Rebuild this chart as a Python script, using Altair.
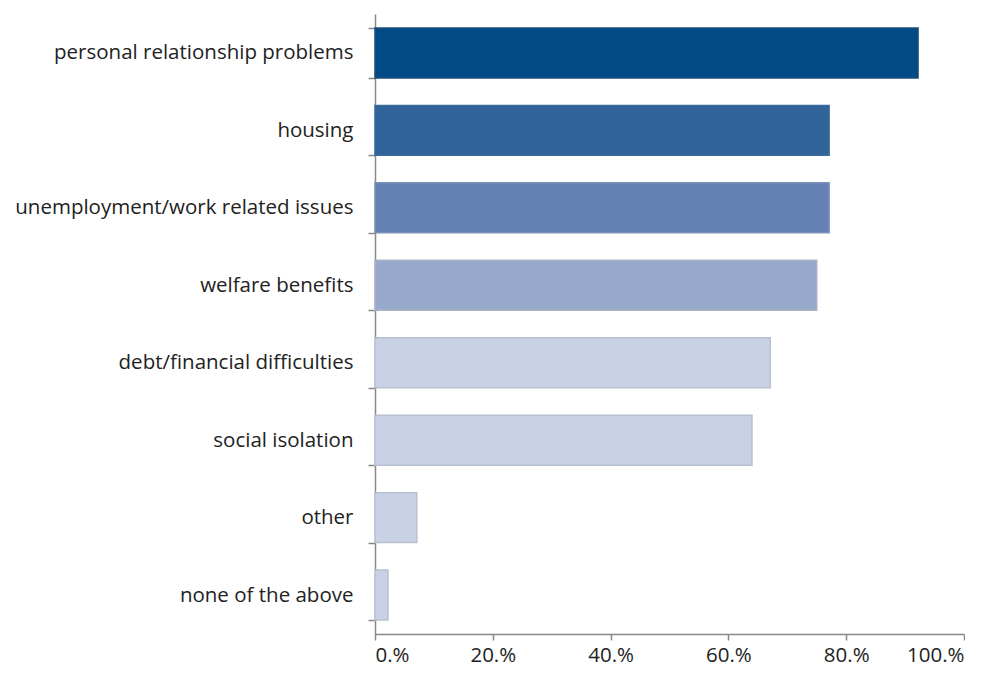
import altair as alt
import pandas as pd

categories = ["personal relationship problems", "housing", "unemployment/work related issues ",
              "welfare benefits", "debt/financial difficulties", "social isolation", "other",
              "none of the above"]
values = [0.922, 0.771, 0.771, 0.750, 0.671, 0.640, 0.071, 0.022]
colors = ["#004A86", "#2F6399", "#6681B4", "#97A8CB", "#C9D2E5", "#C9D2E5", "#C9D2E5", "#C9D2E5"]
strokes = ["#1F4E79", "#3A6A9C", "#7B90B8", "#AAB3C6", "#B8C0D0", "#B8C0D0", "#B8C0D0", "#B8C0D0"]

df = pd.DataFrame({"cat": categories, "val": values, "color": colors, "stroke": strokes})

font = "Open Sans"

chart = alt.Chart(df).mark_bar(strokeWidth=1.5).encode(
    y=alt.Y("cat:N", sort=categories, title=None,
            scale=alt.Scale(paddingInner=0.355, paddingOuter=0.18),
            axis=alt.Axis(tickBand="extent", domainColor="#888888", tickColor="#888888",
                          tickSize=7, labelPadding=15, labelFont=font, labelFontSize=20.5,
                          labelColor="#222222", labelLimit=400)),
    x=alt.X("val:Q", title=None,
            scale=alt.Scale(domain=[0, 1]),
            axis=alt.Axis(values=[0, 0.2, 0.4, 0.6, 0.8, 1.0], grid=False,
                          labelExpr="format(datum.value*100,'.0f') + '.%'",
                          domainColor="#888888", tickColor="#888888", tickSize=6,
                          labelPadding=5, labelFont=font, labelFontSize=20.5,
                          labelColor="#222222")),
    color=alt.Color("color:N", scale=None),
    stroke=alt.Stroke("stroke:N", scale=None),
).properties(
    width=589, height=620,
    padding={"top": -4, "left": 6, "right": 0, "bottom": 0},
).configure_view(stroke=None).configure_axis(domainWidth=1.5, tickWidth=1.5)

chart.save("out.html", embed_options={"renderer": "svg", "actions": False})
